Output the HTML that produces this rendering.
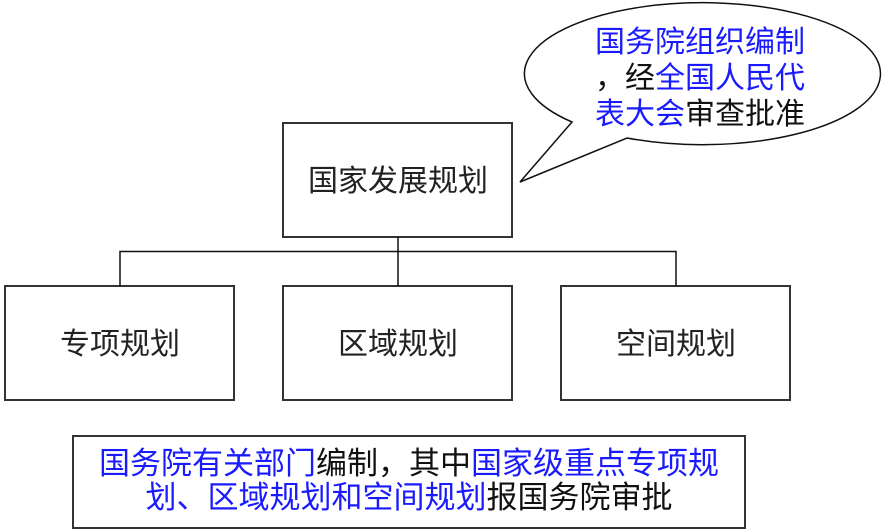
<!DOCTYPE html>
<html><head><meta charset="utf-8"><style>
body{margin:0;background:#fff;width:884px;height:531px;overflow:hidden;}
svg{display:block}
text{font-family:"Liberation Sans","Noto Sans CJK SC",sans-serif;font-size:30px;}
text.b{font-size:31px;}
</style></head><body>
<svg width="884" height="531" viewBox="0 0 884 531" xmlns="http://www.w3.org/2000/svg">
<g fill="#fff" stroke="#333" stroke-width="2">
<rect x="283" y="123" width="229" height="114"/>
<rect x="5" y="286" width="229" height="114"/>
<rect x="283" y="286" width="229" height="114"/>
<rect x="561" y="286" width="229" height="114"/>
<rect x="73" y="436" width="672" height="92"/>
</g>
<g stroke="#111" stroke-width="1.5" fill="none">
<path d="M398 237V286M120 286V251.5H676V286"/>
</g>
<path d="M572 122 A178 71 0 1 1 627 138 L520 182 Z" fill="#fff" stroke="#111" stroke-width="1.5"/>
<g fill="#222" text-anchor="middle">
<text x="398" y="191">国家发展规划</text>
<text x="120" y="354">专项规划</text>
<text x="398" y="354">区域规划</text>
<text x="676" y="354">空间规划</text>
</g>
<g>
<text x="595" y="52" fill="#1a1aff">国务院组织编制</text>
<text x="595" y="88" fill="#111">，经<tspan fill="#1a1aff">全国人民代</tspan></text>
<text x="595" y="124" fill="#1a1aff">表大会<tspan fill="#111">审查批准</tspan></text>
</g>
<g text-anchor="middle">
<text class="b" x="409" y="474" fill="#1a1aff">国务院有关部门<tspan fill="#111">编制，其中</tspan>国家级重点专项规</text>
<text class="b" x="409" y="508" fill="#1a1aff">划、区域规划和空间规划<tspan fill="#111">报国务院审批</tspan></text>
</g>
</svg>
</body></html>
